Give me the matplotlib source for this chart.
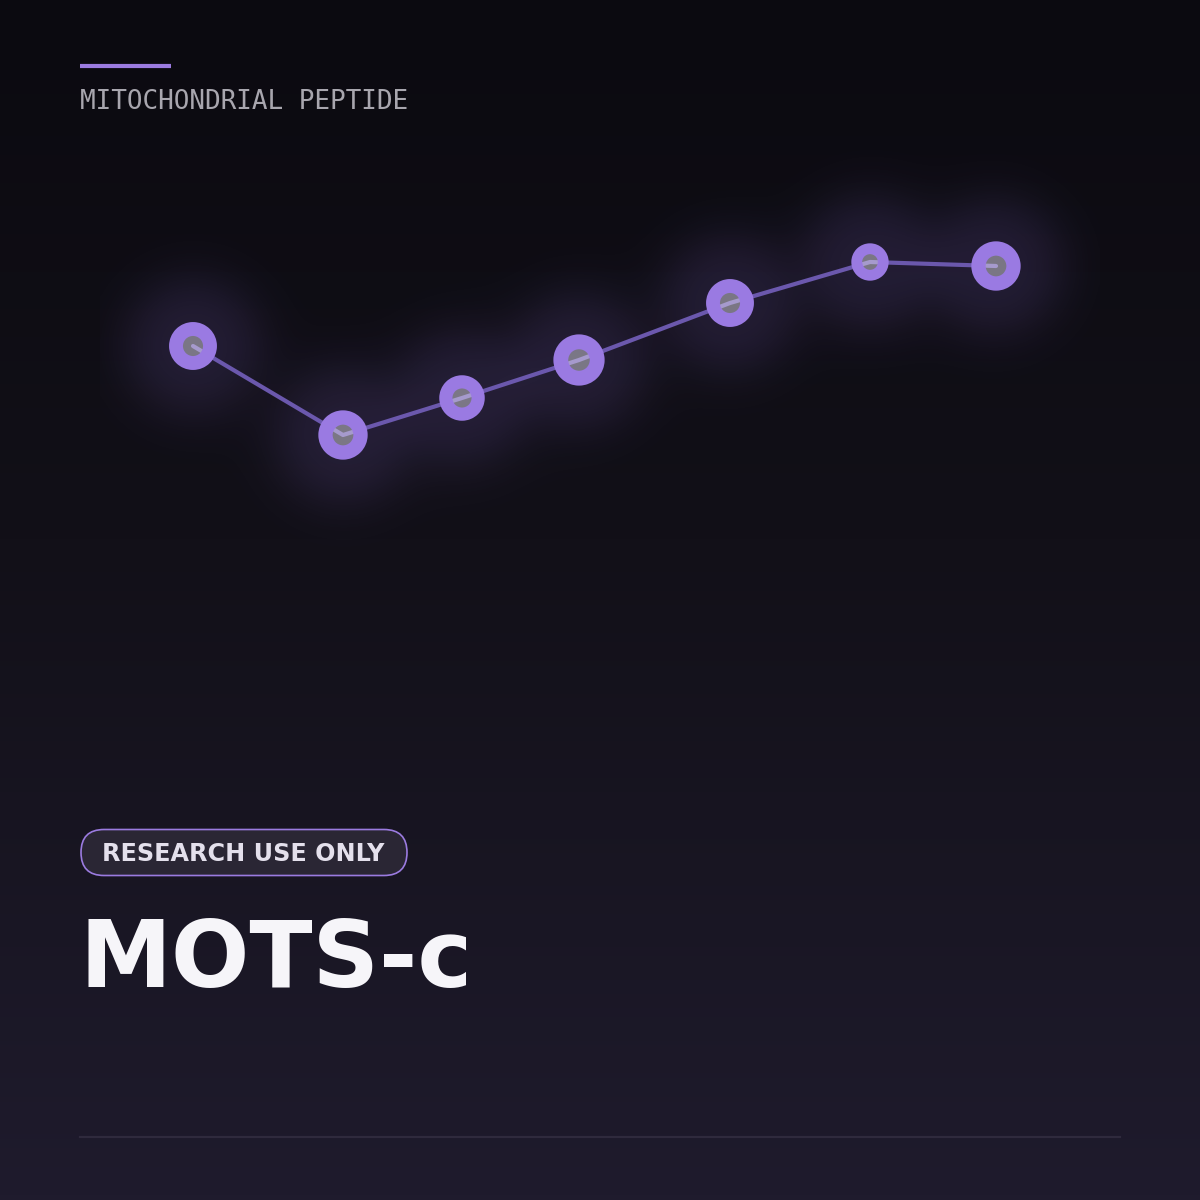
import numpy as np
import matplotlib.pyplot as plt
from matplotlib.patches import FancyBboxPatch

# data
t = [0.43, 1.93, 3.12, 4.29, 5.80, 7.20, 8.46]
level = [1.34, 0.45, 0.82, 1.20, 1.77, 2.18, 2.14]
weight = [1.0, 1.03, 0.95, 1.07, 1.0, 0.78, 1.03]

kicker = 'MITOCHONDRIAL PEPTIDE'
badge = 'RESEARCH USE ONLY'
title = 'MOTS-c'

purple = '#9b7be0'

fig = plt.figure(figsize=(12, 12), dpi=100)

# background gradient
bg = fig.add_axes([0, 0, 1, 1], zorder=0)
grad = np.linspace(0, 1, 256)[:, None]
c_top = np.array([11, 10, 16]) / 255
c_mid = np.array([18, 16, 24]) / 255
c_bot = np.array([31, 27, 45]) / 255
col = np.where(grad < 0.45, c_top + (c_mid - c_top) * (grad / 0.45),
               c_mid + (c_bot - c_mid) * ((grad - 0.45) / 0.55))
img = np.repeat(col[:, None, :], 2, axis=1).reshape(256, 2, 3)
bg.imshow(img, aspect='auto', extent=[0, 1, 1, 0])
bg.set_xlim(0, 1)
bg.set_ylim(1, 0)
bg.axis('off')

# chart
ax = fig.add_axes([100 / 1200, 1 - 560 / 1200, 1000 / 1200, 420 / 1200], zorder=1)
x0, x1, y0, y1 = -0.5, 9.5, -0.8, 3.4
ax.set_xlim(x0, x1)
ax.set_ylim(y0, y1)
ax.axis('off')
ax.patch.set_alpha(0)

# soft glow around each point (blurred disc)
gx, gy = np.meshgrid(np.linspace(x0, x1, 500), np.linspace(y0, y1, 210))
keep = np.ones_like(gx)
for xi, yi in zip(t, level):
    d = np.hypot(gx - xi, gy - yi)
    keep *= 1 - 0.17 / (1 + np.exp((d - 0.64) / 0.16))
glow = np.zeros(gx.shape + (4,))
glow[..., :3] = np.array([138, 108, 214]) / 255
glow[..., 3] = 1 - keep
ax.imshow(glow, extent=[x0, x1, y0, y1], origin='lower', aspect='auto',
          interpolation='bilinear', zorder=1)

ax.plot(t, level, color='#6b58ad', lw=3, zorder=2, solid_capstyle='round')

w = np.array(weight)
ring_r = 17 * w
ax.scatter(t, level, s=(2 * ring_r * 0.72) ** 2, facecolors=(1, 1, 1, 0.4),
           edgecolors='#9a7ae2', linewidths=10 * w, zorder=3)

# decorations
ov = fig.add_axes([0, 0, 1, 1], zorder=2)
ov.set_xlim(0, 1200)
ov.set_ylim(1200, 0)
ov.axis('off')
ov.patch.set_alpha(0)

ov.plot([80, 171], [66, 66], color=purple, lw=3, solid_capstyle='butt')
ov.text(80, 109, kicker, family='DejaVu Sans Mono', fontsize=18.7,
        color='#a8a6ae', va='baseline', ha='left')

pill = FancyBboxPatch((81, 829.5), 326, 46,
                      boxstyle='round,pad=0,rounding_size=23',
                      facecolor='#2a2634', edgecolor=purple, lw=1.2)
ov.add_patch(pill)
ov.text(102, 861, badge, family='DejaVu Sans', weight='bold', fontsize=17.2,
        color='#e4e0ec', va='baseline', ha='left')

ov.text(80, 987, title, family='DejaVu Sans', weight='bold', fontsize=66.5,
        color='#f6f5f9', va='baseline', ha='left')

ov.plot([80, 1120], [1137, 1137], color='#2f2a3d', lw=1.6)

fig.savefig('out.png', dpi=100)
